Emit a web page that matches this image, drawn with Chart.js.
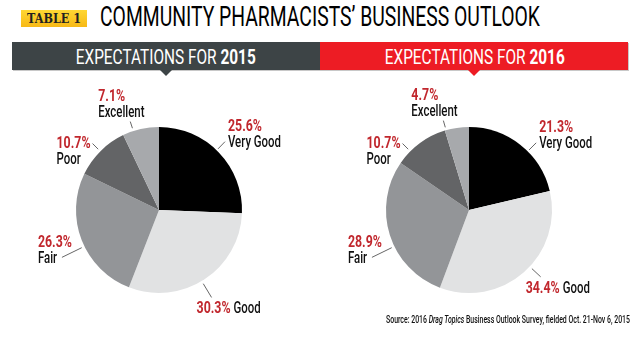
<!DOCTYPE html>
<html>
<head>
<meta charset="utf-8">
<script src="https://cdn.jsdelivr.net/npm/chart.js@4.4.1/dist/chart.umd.min.js"></script>
<style>
  html,body{margin:0;padding:0;background:#fff;}
  #wrap{position:relative;width:638px;height:337px;overflow:hidden;background:#fff;font-family:Roboto,"Liberation Sans",sans-serif;}
  .abs{position:absolute;white-space:nowrap;}
  #badge{left:21px;top:10px;width:66px;height:17px;background:linear-gradient(#ffd733,#f7b916);}
  #badgeText{left:27px;top:10px;height:17px;line-height:18px;font-family:"DejaVu Serif",serif;font-weight:bold;font-size:13px;color:#231f20;transform-origin:0 50%;}
  #title{left:100px;top:3px;font-size:28px;line-height:28px;font-weight:400;color:#000;transform-origin:0 50%;}
  .bar{top:42px;height:28px;box-shadow:1px 1px 0 #c8c8c8;}
  #bar1{left:12px;width:308px;background:#3d4446;}
  #bar2{left:320px;width:308px;background:#ed1c24;}
  .tri{width:0;height:0;border-left:6px solid transparent;border-right:6px solid transparent;top:70px;}
  #tri1{left:160px;border-top:6px solid #3d4446;}
  #tri2{left:468px;border-top:6px solid #ed1c24;}
  .htext{top:42px;height:28px;line-height:30px;font-size:21px;color:#fff;transform-origin:50% 50%;}
  .htext b{font-weight:700;}
  #source{left:386px;top:313px;font-size:11px;line-height:14px;font-weight:500;color:#111;transform-origin:0 50%;}
  canvas{position:absolute;top:76px;}
</style>
</head>
<body>
<div id="wrap">
  <div id="badge" class="abs"></div>
  <div id="badgeText" class="abs">TABLE 1</div>
  <div id="title" class="abs">COMMUNITY PHARMACISTS’ BUSINESS OUTLOOK</div>
  <div id="bar1" class="abs bar"></div>
  <div id="bar2" class="abs bar"></div>
  <div id="tri1" class="abs tri"></div>
  <div id="tri2" class="abs tri"></div>
  <div id="h1" class="abs htext">EXPECTATIONS FOR <b>2015</b></div>
  <div id="h2" class="abs htext">EXPECTATIONS FOR <b>2016</b></div>
  <canvas id="c1" width="319" height="261" style="left:0px;width:319px;height:261px"></canvas>
  <canvas id="c2" width="319" height="261" style="left:319px;width:319px;height:261px"></canvas>
  <div id="source" class="abs">Source: 2016 <i>Drag Topics</i> Business Outlook Survey, fielded Oct. 21-Nov 6, 2015</div>
</div>
<script>
// ---- data ----
const categories = ['Very Good', 'Good', 'Fair', 'Poor', 'Excellent'];
const values2015 = [25.6, 30.3, 26.3, 10.7, 7.1];
const values2016 = [21.3, 34.4, 28.9, 10.7, 4.7];
const years = ['2015', '2016'];

// ---- style / layout ----
const sliceColors = ['#000000', '#e1e2e3', '#939598', '#636466', '#a7a9ac'];
const pctColor = '#c1272d';
// leader: [angle deg clockwise from top, start offset beyond radius, end offset beyond radius]
const leaders2015 = [[44, 2, 12], [149, 3, 19], [244, 3, 25], [315, 3, 11], [342, 3, 10]];
const leaders2016 = [[45, 2, 12], [133, 3, 15], [244, 3, 25], [315, 3, 11], [344, 3, 10]];
// label placement relative to leader end
const labelLayout = [
  {lines: 2, anchor: 'left', dx: 3, dyPct: -17, dyName: -1},
  {lines: 1, dx: -15, dy: 10},
  {lines: 2, anchor: 'left', dx: -24, dyPct: -16, dyName: 0},
  {lines: 2, anchor: 'pctRight', dx: -2, dyPct: -2, dyName: 14},
  {lines: 2, anchor: 'left', dx: -32, dyPct: -27, dyName: -11}
];
const FS = 17;
const pctFont = '700 ' + FS + 'px Roboto';
const nameFont = '500 ' + FS + 'px Roboto';

function scales(ctx) {
  ctx.save();
  ctx.font = nameFont; const wn = ctx.measureText('Very Good').width;
  ctx.font = pctFont; const wp = ctx.measureText('25.6%').width;
  ctx.restore();
  return {name: 53 / wn, pct: 34 / wp};
}

function drawText(ctx, txt, x, cy, font, color, sx) {
  ctx.save();
  ctx.font = font;
  ctx.fillStyle = color;
  ctx.textBaseline = 'alphabetic';
  ctx.translate(x, cy + 0.355 * FS);
  ctx.scale(sx, 1);
  ctx.fillText(txt, 0, 0);
  ctx.restore();
}
function textW(ctx, txt, font, sx) {
  ctx.save(); ctx.font = font; const w = ctx.measureText(txt).width * sx; ctx.restore(); return w;
}

const labelPlugin = {
  id: 'pieLabels',
  afterDatasetsDraw(chart, args, opts) {
    const ctx = chart.ctx;
    const sc = scales(ctx);
    const meta = chart.getDatasetMeta(0);
    const data = chart.data.datasets[0].data;
    meta.data.forEach((arc, i) => {
      const p = arc.getProps(['x', 'y', 'outerRadius'], true);
      const [deg, s0, s1] = opts.leaders[i];
      const a = deg * Math.PI / 180;
      const sx = Math.sin(a), sy = -Math.cos(a);
      const x0 = p.x + (p.outerRadius + s0) * sx, y0 = p.y + (p.outerRadius + s0) * sy;
      const x1 = p.x + (p.outerRadius + s1) * sx, y1 = p.y + (p.outerRadius + s1) * sy;
      ctx.save();
      ctx.strokeStyle = '#555';
      ctx.lineWidth = 0.9;
      ctx.beginPath(); ctx.moveTo(x0, y0); ctx.lineTo(x1, y1); ctx.stroke();
      ctx.restore();
      const pct = data[i].toFixed(1) + '%';
      const name = chart.data.labels[i];
      const L = labelLayout[i];
      if (L.lines === 1) {
        const lx = x1 + L.dx, cy = y1 + L.dy;
        drawText(ctx, pct, lx, cy, pctFont, pctColor, sc.pct);
        const w = textW(ctx, pct, pctFont, sc.pct);
        drawText(ctx, name, lx + w + 3, cy, nameFont, '#111', sc.name);
      } else {
        let lx = x1 + L.dx;
        if (L.anchor === 'pctRight') lx -= textW(ctx, pct, pctFont, sc.pct);
        drawText(ctx, pct, lx, y1 + L.dyPct, pctFont, pctColor, sc.pct);
        drawText(ctx, name, lx, y1 + L.dyName, nameFont, '#111', sc.name);
      }
    });
  }
};

function makePie(id, values, leaders, pad) {
  return new Chart(document.getElementById(id), {
    type: 'pie',
    data: {
      labels: categories,
      datasets: [{data: values, backgroundColor: sliceColors, borderWidth: 0, hoverOffset: 0, offset: 0}]
    },
    options: {
      responsive: false,
      animation: false,
      devicePixelRatio: 1,
      events: [],
      layout: {padding: pad},
      plugins: {legend: {display: false}, tooltip: {enabled: false}, pieLabels: {leaders: leaders}}
    },
    plugins: [labelPlugin]
  });
}

function fit(el, w, left) {
  el.style.transform = 'none';
  const cw = el.getBoundingClientRect().width;
  const s = w / cw;
  if (left !== undefined) el.style.left = (left - cw / 2) + 'px';
  el.style.transform = 'scaleX(' + s + ')';
}

function init() {
  fit(document.getElementById('badgeText'), 54);
  fit(document.getElementById('title'), 440);
  fit(document.getElementById('h1'), 180, 166);
  fit(document.getElementById('h2'), 180, 474.5);
  fit(document.getElementById('source'), 244);
  makePie('c1', values2015, leaders2015, {left: 76, right: 77, top: 51, bottom: 44});
  makePie('c2', values2016, leaders2016, {left: 67, right: 86, top: 51, bottom: 44});
}
if (document.fonts && document.fonts.ready) document.fonts.ready.then(init); else init();
</script>
</body>
</html>
